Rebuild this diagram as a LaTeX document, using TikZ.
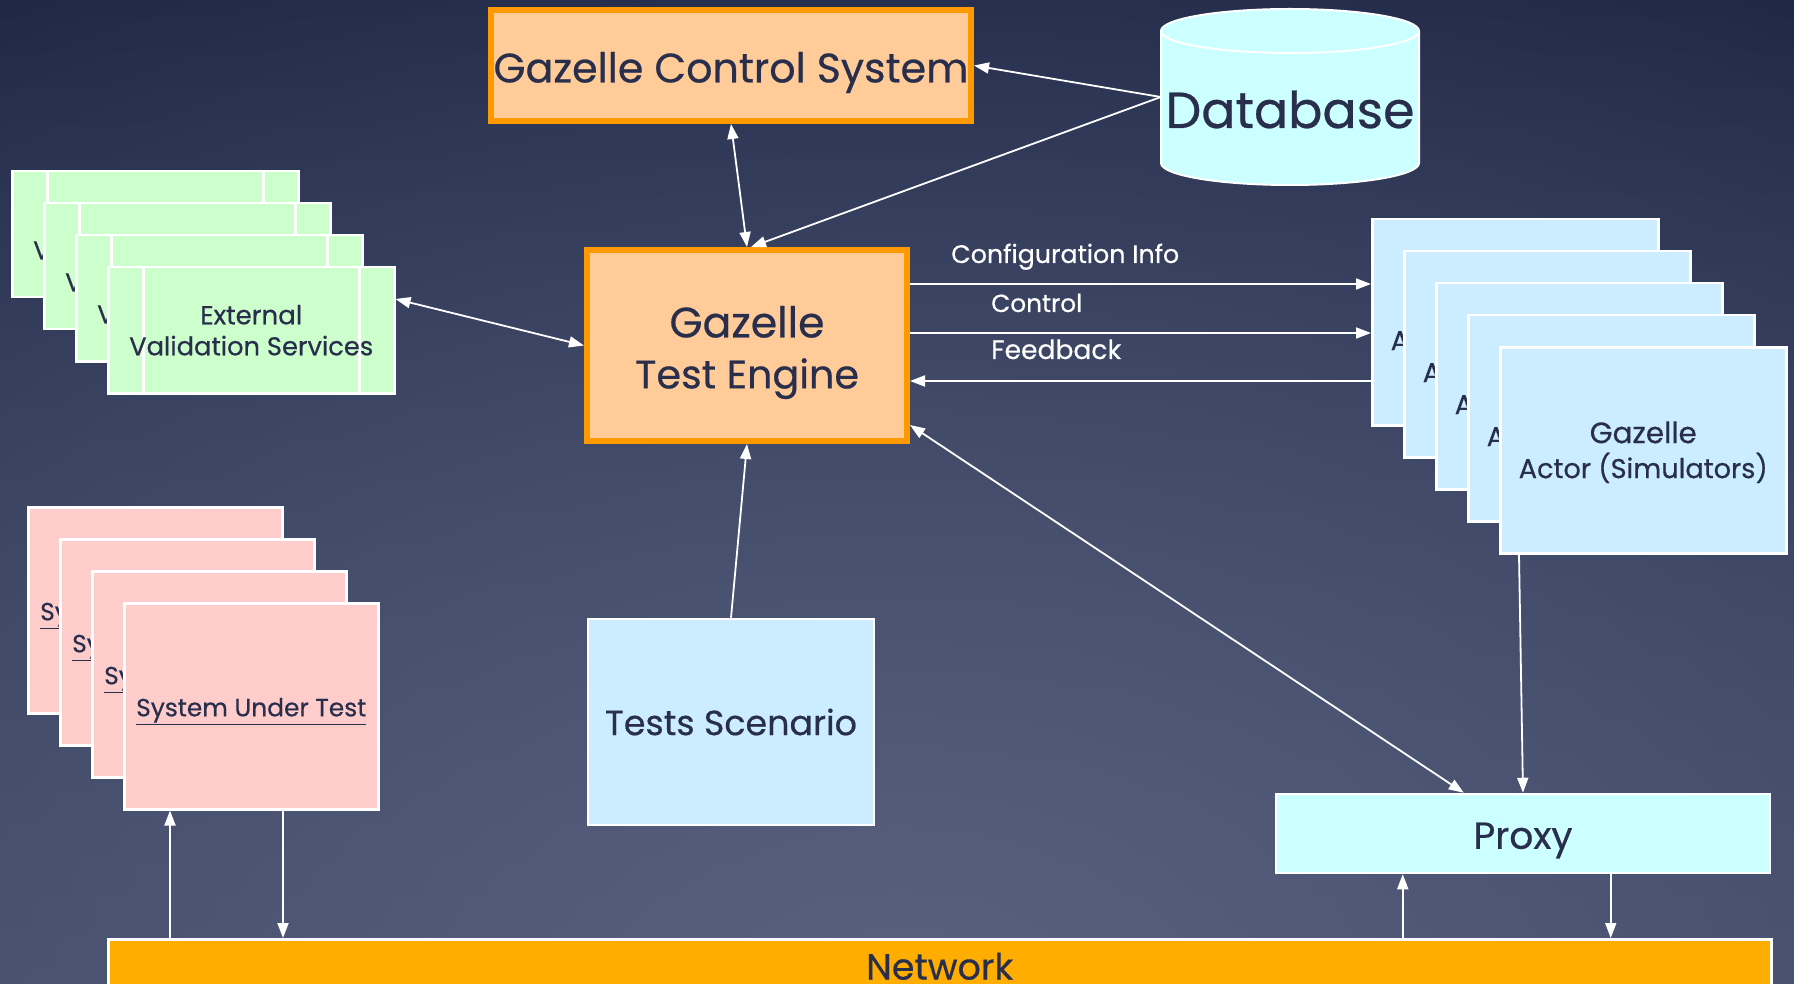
\documentclass[tikz,border=0pt]{standalone}
\usepackage{fontspec}
\setmainfont{Poppins}[FakeBold=0.5]
\usepackage{graphicx}
\usetikzlibrary{arrows.meta,calc,fadings}
\tikzfading[name=myglow, inner color=transparent!0, outer color=transparent!100]
\definecolor{bgtop}{HTML}{1F2847}
\definecolor{bgbot}{HTML}{3C4463}
\definecolor{bgglow}{HTML}{58617F}
\definecolor{peach}{HTML}{FFCC99}
\definecolor{orangeB}{HTML}{FF9900}
\definecolor{cyanfill}{HTML}{CCFFFF}
\definecolor{valfill}{HTML}{CCFFCC}
\definecolor{sutfill}{HTML}{FFCCCC}
\definecolor{actfill}{HTML}{CCECFF}
\definecolor{netfill}{HTML}{FFAE00}
\definecolor{ink}{HTML}{282E4C}
\newcommand\fitw[2]{\resizebox{#1pt}{!}{#2}}
\newcommand\dn[2]{\raisebox{-#1pt}[\height][\depth]{#2}}
\begin{document}
\begin{tikzpicture}[x=1pt,y=1pt,
  box/.style={draw=white, line width=2.5pt, inner sep=0pt, text=ink, align=center},
  orangebox/.style={box, draw=orangeB, fill=peach, line width=6pt},
  valbox/.style={box, fill=valfill, minimum width=286pt, minimum height=126pt, anchor=north west,
    font=\fontsize{24}{31}\selectfont,
    path picture={\draw[white,line width=2.5pt]
      ([xshift=35pt]path picture bounding box.north west) -- ([xshift=35pt]path picture bounding box.south west)
      ([xshift=-35pt]path picture bounding box.north east) -- ([xshift=-35pt]path picture bounding box.south east);}},
  sutbox/.style={box, fill=sutfill, minimum width=254pt, minimum height=206pt, anchor=north west,
    font=\fontsize{27}{34}\selectfont},
  actbox/.style={box, fill=actfill, minimum width=286pt, minimum height=206pt, anchor=north west,
    font=\fontsize{27}{35}\selectfont},
  lbl/.style={text=white, inner sep=0pt, font=\fontsize{25}{30}\selectfont},
  conn/.style={draw=white, line width=1.8pt, -{Triangle[length=15pt,width=11pt]}},
  biconn/.style={draw=white, line width=1.8pt, {Triangle[length=15pt,width=11pt]}-{Triangle[length=15pt,width=11pt]}}
]
\useasboundingbox (0,0) rectangle (1794,-984);
% background
\fill[top color=bgtop, bottom color=bgbot] (0,0) rectangle (1794,-984);
\begin{scope}
\clip (0,0) rectangle (1794,-984);
\fill[bgglow, path fading=myglow] (900,-1000) ellipse (1800 and 1150);
\end{scope}

% validation services stack
\node[valbox] (val1) at (11,-170) {\fitw{102}{External}\\\fitw{244}{Validation Services}};
\node[valbox] (val2) at (43,-202) {\fitw{102}{External}\\\fitw{244}{Validation Services}};
\node[valbox] (val3) at (75,-234) {\fitw{102}{External}\\\fitw{244}{Validation Services}};
\node[valbox] (val4) at (107,-266) {\fitw{102}{External}\\\fitw{244}{Validation Services}};

% system under test stack
\node[sutbox] (sut1) at (27,-506) {\dn{5}{\fitw{230}{\underline{System Under Test}}}};
\node[sutbox] (sut2) at (59,-538) {\dn{5}{\fitw{230}{\underline{System Under Test}}}};
\node[sutbox] (sut3) at (91,-570) {\dn{5}{\fitw{230}{\underline{System Under Test}}}};
\node[sutbox] (sut4) at (123,-602) {\dn{5}{\fitw{230}{\underline{System Under Test}}}};

% actor stack
\node[actbox] (act1) at (1371,-218) {\dn{2}{\fitw{107}{Gazelle}}\\\dn{2}{\fitw{249}{Actor (Simulators)}}};
\node[actbox] (act2) at (1403,-250) {\dn{2}{\fitw{107}{Gazelle}}\\\dn{2}{\fitw{249}{Actor (Simulators)}}};
\node[actbox] (act3) at (1435,-282) {\dn{2}{\fitw{107}{Gazelle}}\\\dn{2}{\fitw{249}{Actor (Simulators)}}};
\node[actbox] (act4) at (1467,-314) {\dn{2}{\fitw{107}{Gazelle}}\\\dn{2}{\fitw{249}{Actor (Simulators)}}};
\node[actbox] (act5) at (1499,-346) {\dn{2}{\fitw{107}{Gazelle}}\\\dn{2}{\fitw{249}{Actor (Simulators)}}};

% main boxes
\node[orangebox, minimum width=480pt, minimum height=111pt, font=\fontsize{40}{48}\selectfont]
  (gcs) at (731,-65.5) {\dn{7}{\fitw{475}{Gazelle Control System}}};
\node[orangebox, minimum width=320pt, minimum height=191pt, font=\fontsize{38}{51}\selectfont]
  (gte) at (747,-345.5) {\dn{7}{\fitw{155}{Gazelle}}\\\dn{7}{\fitw{224}{Test Engine}}};
\node[box, fill=actfill, minimum width=286pt, minimum height=206pt, font=\fontsize{36}{44}\selectfont]
  (ts) at (731,-722) {\fitw{252}{Tests Scenario}};
\node[box, fill=cyanfill, minimum width=494pt, minimum height=79pt, font=\fontsize{35}{42}\selectfont]
  (proxy) at (1523,-833.5) {\dn{7}{\fitw{99}{Proxy}}};
\node[box, fill=netfill, minimum width=1663pt, minimum height=52pt, anchor=north west, font=\fontsize{35}{42}\selectfont]
  (net) at (107,-938) {\dn{1}{\fitw{147}{Network}}};

% database cylinder
\path[fill=cyanfill, draw=white, line width=2pt]
  (1161,-31) -- (1161,-163) arc[start angle=180, end angle=360, x radius=129pt, y radius=22pt]
  -- (1419,-31) arc[start angle=0, end angle=180, x radius=129pt, y radius=22pt] -- cycle;
\draw[white, line width=2pt] (1161,-31) arc[start angle=180, end angle=360, x radius=129pt, y radius=22pt];
\node[inner sep=0pt, text=ink, minimum width=258pt, minimum height=176pt, font=\fontsize{50}{60}\selectfont]
  (db) at (1290,-97) {\raisebox{-31pt}[0pt][0pt]{\fitw{249}{Database}}};

% connectors
\draw[biconn] (gcs.south) -- (gte.north);
\draw[conn] (db.west) -- (gcs.east);
\draw[conn] (db.west) -- ($(gte.north)+(4,0)$);
\draw[biconn] ($(val4.north east)+(0,-33)$) -- (gte.west);
\coordinate (cfg) at ($(gte.north east)+(0,-37)$);
\coordinate (ctl) at ($(gte.north east)+(0,-86)$);
\coordinate (fbk) at ($(gte.north east)+(0,-134)$);
\draw[conn] (cfg) -- (cfg -| act1.west);
\draw[conn] (ctl) -- (ctl -| act1.west);
\draw[conn] (fbk -| act1.west) -- (fbk);
\draw[conn] (ts.north) -- (gte.south);
\draw[biconn] ($(gte.south east)+(0,19)$) -- ($(proxy.north west)+(189,0)$);
\draw[conn] ($(act5.south west)+(20,0)$) -- (proxy.north);
\coordinate (s1) at ($(sut4.south west)+(47,0)$);
\coordinate (s2) at ($(sut4.south west)+(160,0)$);
\draw[conn] (s1 |- net.north) -- (s1);
\draw[conn] (s2) -- (s2 |- net.north);
\coordinate (p1) at ($(proxy.south west)+(128,0)$);
\coordinate (p2) at ($(proxy.south west)+(336,0)$);
\draw[conn] (p1 |- net.north) -- (p1);
\draw[conn] (p2) -- (p2 |- net.north);

% connector labels
\node[lbl, anchor=base west] (lcfg) at (951,-263) {\fitw{228}{Configuration Info}};
\node[lbl, anchor=base west] (lctl) at (991,-312) {\fitw{91}{Control}};
\node[lbl, anchor=base west] (lfbk) at (991,-359) {\fitw{130}{Feedback}};
\end{tikzpicture}
\end{document}
